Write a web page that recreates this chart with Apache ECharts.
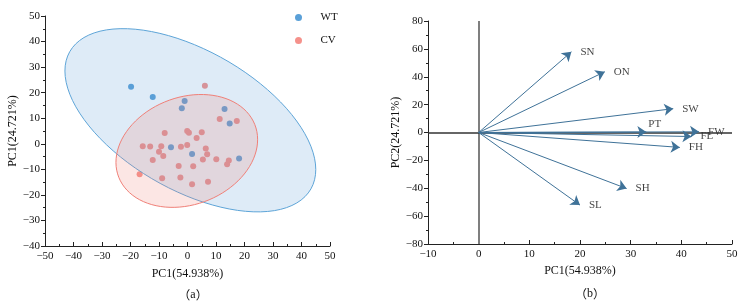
<!DOCTYPE html>
<html lang="en">
<head>
    <meta charset="UTF-8">
    <title>PCA</title>
    <style>
        html, body { margin: 0; padding: 0; background: #fff; }
    </style>
</head>
<body>
<div id="main" style="width: 745px;height:307px;"></div>
<script src="https://cdn.jsdelivr.net/npm/echarts@6/dist/echarts.min.js"></script>
<script>
    // scores (a)
    var wtPC1 = [-19.8, -12.2, -1.0, -2.0, 13.0, 14.8, -5.8, 1.6, 18.1];
    var wtPC2 = [22.3, 18.3, 16.7, 13.9, 13.6, 7.9, -1.4, -4.0, -5.8];
    var cvPC1 = [6.1, 11.3, 17.3, -8.0, -0.1, 0.5, 5.0, 3.2, -15.7, -13.1, -9.2, -2.3, -0.1, -10.0, -8.5,
        6.4, 6.9, -12.2, 5.4, 10.1, 14.5, 13.9, -3.1, 2.0, -8.9, -2.5, 7.2, 1.6, -16.8];
    var cvPC2 = [22.7, 9.7, 8.9, 4.2, 5.0, 4.3, 4.5, 2.3, -1.0, -1.1, -1.0, -1.2, -0.5, -3.1, -4.8,
        -1.8, -4.1, -6.3, -6.2, -6.1, -6.5, -8.0, -8.7, -8.8, -13.5, -13.2, -14.9, -15.8, -11.9];
    // confidence ellipses: [centre x, centre y, semi-major, semi-minor, angle deg]
    var wtEllipse = [1.0, 9.2, 50.2, 26.5, -34.5];
    var cvEllipse = [-0.25, -2.8, 26.1, 20.6, 29.8];

    // loadings (b)
    var loadNames = ['SN', 'ON', 'SW', 'PT', 'FW', 'FL', 'FH', 'SH', 'SL'];
    var loadPC1 = [18.3, 24.9, 38.4, 33.1, 43.5, 42.0, 39.7, 29.2, 20.0];
    var loadPC2 = [57.9, 43.6, 17.1, 0.3, 0.5, -2.9, -10.7, -40.2, -52.1];

    var serif = '"Liberation Serif", "Times New Roman", serif';
    var txt = '#111';

    function pairs(xs, ys) {
        var out = [];
        for (var i = 0; i < xs.length; i++) out.push([xs[i], ys[i]]);
        return out;
    }
    function minus(v) { return String(v).replace('-', '\u2212'); }

    function ellipse(e, fill, stroke) {
        return function (params, api) {
            var th = e[4] * Math.PI / 180, pts = [];
            for (var i = 0; i <= 90; i++) {
                var t = i / 90 * Math.PI * 2;
                var x = e[0] + e[2] * Math.cos(t) * Math.cos(th) - e[3] * Math.sin(t) * Math.sin(th);
                var y = e[1] + e[2] * Math.cos(t) * Math.sin(th) + e[3] * Math.sin(t) * Math.cos(th);
                pts.push(api.coord([x, y]));
            }
            return {type: 'polygon', shape: {points: pts}, style: {fill: fill, stroke: stroke, lineWidth: 1}};
        };
    }

    function axisCommon(min, max, interval, inside, name, gap) {
        return {
            min: min, max: max, interval: interval,
            name: name, nameLocation: 'middle', nameGap: gap,
            nameTextStyle: {fontFamily: serif, fontSize: 12, color: txt},
            axisLine: {onZero: false, lineStyle: {color: '#222', width: 1}},
            axisTick: {inside: inside, length: 4, lineStyle: {color: '#222'}},
            minorTick: {show: true, splitNumber: 2, length: 2, lineStyle: {color: '#222'}},
            axisLabel: {fontFamily: serif, fontSize: 11, color: txt, margin: 5, formatter: minus},
            splitLine: {show: false}
        };
    }

    var arrowLines = [];
    for (var i = 0; i < loadNames.length; i++) {
        arrowLines.push([{coord: [0, 0]}, {coord: [loadPC1[i], loadPC2[i]]}]);
    }
    var tips = [];
    for (var j = 0; j < loadNames.length; j++) {
        var item = {value: [loadPC1[j], loadPC2[j]], name: loadNames[j]};
        if (loadNames[j] === 'PT') item.label = {position: 'right', distance: 2, offset: [0, -8]};
        tips.push(item);
    }

    var capStyle = {
        fontSize: 12, fontWeight: 'normal', color: txt,
        rich: {
            p: {fontFamily: '"Noto Sans CJK SC"', fontSize: 12, fontWeight: 'normal', color: txt},
            s: {fontFamily: serif, fontSize: 12, fontWeight: 'normal', color: txt}
        }
    };

    var myChart = echarts.init(document.getElementById('main'));
    var option = {
        animation: false,
        backgroundColor: '#fff',
        title: [
            {text: '{p|（}{s|a}{p|）}', left: 188, top: 284, textAlign: 'center', textStyle: capStyle},
            {text: '{p|（}{s|b}{p|）}', left: 585, top: 283, textAlign: 'center', textStyle: capStyle}
        ],
        legend: {
            data: ['WT', 'CV'], orient: 'vertical', left: 290, top: 7,
            icon: 'circle', itemWidth: 34, itemHeight: 7, itemGap: 12,
            textStyle: {fontFamily: serif, fontSize: 11, color: txt}
        },
        grid: [
            {left: 45, right: 415, top: 16, bottom: 61},
            {left: 428, right: 13, top: 21, bottom: 63}
        ],
        xAxis: [
            Object.assign(axisCommon(-50, 50, 10, true, 'PC1(54.938%)', 22), {gridIndex: 0}),
            Object.assign(axisCommon(-10, 50, 10, true, 'PC1(54.938%)', 21), {gridIndex: 1})
        ],
        yAxis: [
            Object.assign(axisCommon(-40, 50, 10, false, 'PC1(24.721%)', 23), {gridIndex: 0}),
            Object.assign(axisCommon(-80, 80, 20, false, 'PC2(24.721%)', 22), {gridIndex: 1})
        ],
        series: [
            {
                name: 'WT', type: 'scatter', xAxisIndex: 0, yAxisIndex: 0, z: 2,
                symbolSize: 6, data: pairs(wtPC1, wtPC2),
                itemStyle: {color: '#5aa0d8', opacity: 1}
            },
            {
                name: 'CV', type: 'scatter', xAxisIndex: 0, yAxisIndex: 0, z: 2,
                symbolSize: 6, data: pairs(cvPC1, cvPC2),
                itemStyle: {color: '#f5918b', opacity: 1}
            },
            {
                type: 'custom', xAxisIndex: 0, yAxisIndex: 0, z: 3, silent: true,
                renderItem: ellipse(wtEllipse, 'rgba(91,157,214,0.2)', '#5ea5d8'),
                data: [[wtEllipse[0], wtEllipse[1]]]
            },
            {
                type: 'custom', xAxisIndex: 0, yAxisIndex: 0, z: 4, silent: true,
                renderItem: ellipse(cvEllipse, 'rgba(240,128,122,0.2)', '#f08078'),
                data: [[cvEllipse[0], cvEllipse[1]]]
            },
            {
                type: 'scatter', xAxisIndex: 1, yAxisIndex: 1, symbolSize: 0, silent: true,
                data: tips,
                label: {show: true, position: 'right', distance: 9, formatter: '{b}',
                    fontFamily: serif, fontSize: 11, color: txt},
                markLine: {
                    silent: true, symbol: ['none', 'none'], label: {show: false},
                    data: [
                        {xAxis: 0, lineStyle: {color: '#7f7f7f', width: 2, type: 'solid'}},
                        {yAxis: 0, lineStyle: {color: '#333', width: 1.5, type: 'solid'}}
                    ]
                }
            },
            {
                type: 'line', xAxisIndex: 1, yAxisIndex: 1, data: [], silent: true,
                markLine: {
                    silent: true, symbol: ['none', 'arrow'], symbolSize: 9, label: {show: false},
                    lineStyle: {color: '#3f7298', width: 1, type: 'solid'},
                    data: arrowLines
                }
            }
        ]
    };
    myChart.setOption(option);
</script>
</body>
</html>
